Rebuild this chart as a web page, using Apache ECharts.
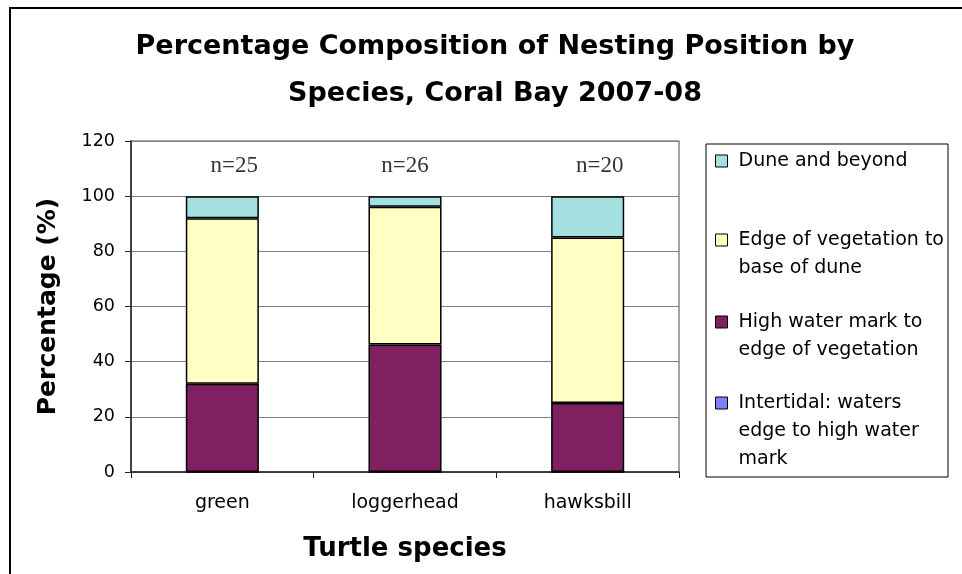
<!DOCTYPE html>
<html>
<head>
<meta charset="utf-8">
<script src="https://cdn.jsdelivr.net/npm/echarts@6/dist/echarts.min.js"></script>
<style>
  html, body { margin: 0; padding: 0; background: #fff; }
  #main { width: 962px; height: 574px; }
</style>
</head>
<body>
<div id="main"></div>
<script>
// categories and values (percent of nests per species)
var species = ['green', 'loggerhead', 'hawksbill'];
var sampleSizes = ['n=25', 'n=26', 'n=20'];
var intertidal = [0, 0, 0];
var highWater = [32, 46.2, 25];
var edgeVeg = [60, 50, 60];
var dune = [8, 3.8, 15];
var nLabelLevel = [111, 111, 111];
var nLabelShift = [12, 0, 12];   // the n= boxes sit a bit off centre in the original

var seriesNames = [
  'Intertidal: waters edge to high water mark',
  'High water mark to edge of vegetation',
  'Edge of vegetation to base of dune',
  'Dune and beyond'
];
// how legend text wraps in the box
var legendLines = {
  'Dune and beyond': ['Dune and beyond'],
  'Edge of vegetation to base of dune': ['Edge of vegetation to', 'base of dune'],
  'High water mark to edge of vegetation': ['High water mark to', 'edge of vegetation'],
  'Intertidal: waters edge to high water mark': ['Intertidal: waters', 'edge to high water', 'mark']
};
var colors = ['#8080ff', '#802060', '#ffffc4', '#a5e0e0'];
var legendFirstLine = [161, 240, 322, 403];
var legendOrder = [3, 2, 1, 0];
var LH = 28;

var chart = echarts.init(document.getElementById('main'));

function barSeries(idx, values) {
  return {
    name: seriesNames[idx],
    type: 'bar',
    stack: 'total',
    barWidth: '40%',
    itemStyle: { color: colors[idx], borderColor: '#000', borderWidth: 1.5 },
    data: values
  };
}

// one legend per entry so the gaps can follow the original box;
// blank lines on top keep the marker beside the first text line
var legends = legendOrder.map(function (idx, i) {
  var k = legendLines[seriesNames[idx]].length;
  return {
    data: [seriesNames[idx]],
    left: 715,
    top: legendFirstLine[i] - (2 * k - 1) * LH / 2,
    orient: 'vertical',
    icon: 'rect',
    itemWidth: 12,
    itemHeight: 12,
    itemGap: 0,
    padding: 0,
    selectedMode: false,
    itemStyle: { borderColor: '#000', borderWidth: 1 },
    formatter: function (name) {
      var lines = legendLines[name];
      var pad = [];
      for (var j = 1; j < lines.length; j++) pad.push(' ');
      return pad.concat(lines).join('\n');
    },
    textStyle: {
      fontFamily: 'DejaVu Sans',
      fontSize: 19,
      lineHeight: LH,
      color: '#000',
      padding: [0, 0, 0, 6]
    }
  };
});

chart.setOption({
  backgroundColor: '#fff',
  animation: false,
  title: {
    text: 'Percentage Composition of Nesting Position by\nSpecies, Coral Bay 2007-08',
    left: 490,
    top: 18,
    textAlign: 'center',
    textStyle: {
      fontFamily: 'DejaVu Sans',
      fontWeight: 'bold',
      fontSize: 27,
      lineHeight: 47,
      color: '#000'
    }
  },
  legend: legends,
  graphic: [
    {
      type: 'rect',
      shape: { x: 10, y: 8, width: 1000, height: 700 },
      style: { fill: null, stroke: '#000', lineWidth: 2 },
      silent: true
    },
    {
      type: 'rect',
      shape: { x: 706, y: 144, width: 242, height: 333 },
      style: { fill: null, stroke: '#000', lineWidth: 1 },
      silent: true
    }
  ],
  grid: {
    left: 131,
    right: 283,
    top: 141,
    bottom: 102,
    show: true,
    borderColor: '#888',
    borderWidth: 1.5
  },
  xAxis: {
    type: 'category',
    data: species,
    name: 'Turtle species',
    nameLocation: 'middle',
    nameGap: 64,
    nameTextStyle: { fontFamily: 'DejaVu Sans', fontWeight: 'bold', fontSize: 26, color: '#000' },
    axisLine: { lineStyle: { color: '#222', width: 1.5 } },
    axisTick: { show: true, length: 6, lineStyle: { color: '#222' } },
    axisLabel: { fontFamily: 'DejaVu Sans', fontSize: 19, color: '#000', margin: 22 },
    splitLine: { show: false }
  },
  yAxis: {
    type: 'value',
    min: 0,
    max: 120,
    interval: 20,
    name: 'Percentage (%)',
    nameLocation: 'middle',
    nameGap: 70,
    nameTextStyle: { fontFamily: 'DejaVu Sans', fontWeight: 'bold', fontSize: 25, color: '#000' },
    axisLine: { show: true, lineStyle: { color: '#222', width: 1.5 } },
    axisTick: { show: true, length: 6, lineStyle: { color: '#222' } },
    axisLabel: { fontFamily: 'DejaVu Sans', fontSize: 17.5, color: '#000', margin: 16 },
    splitLine: { show: true, lineStyle: { color: '#808080', width: 1 } }
  },
  series: [
    barSeries(0, intertidal),
    barSeries(1, highWater),
    barSeries(2, edgeVeg),
    barSeries(3, dune),
    {
      name: 'sample size',
      type: 'scatter',
      symbolSize: 0,
      silent: true,
      data: nLabelLevel.map(function (v, i) {
        return { value: v, label: { offset: [nLabelShift[i], 0] } };
      }),
      label: {
        show: true,
        position: 'inside',
        formatter: function (p) { return sampleSizes[p.dataIndex]; },
        fontFamily: 'Liberation Serif',
        fontSize: 23,
        color: '#000'
      }
    }
  ]
});
</script>
</body>
</html>
